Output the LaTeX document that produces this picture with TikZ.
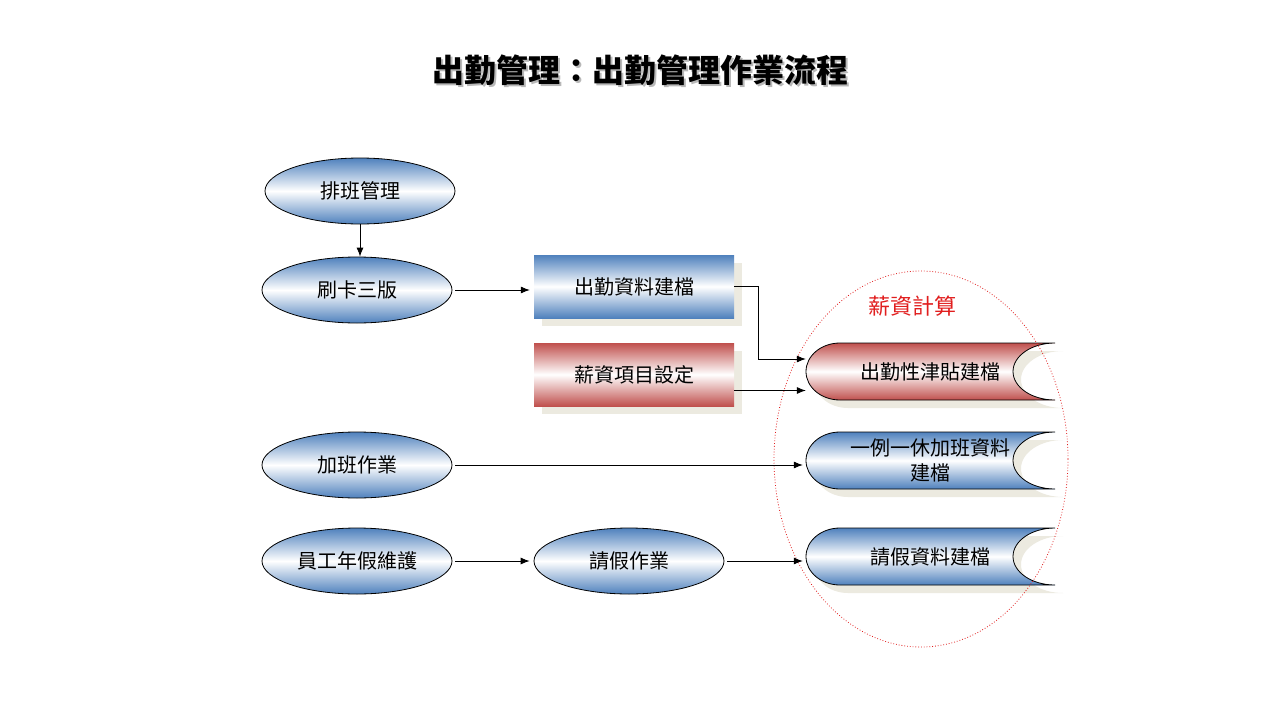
\documentclass[tikz,border=0pt]{standalone}
\usepackage{fontspec}
\setmainfont{Noto Sans CJK TC}
\usetikzlibrary{arrows.meta,shapes.geometric,shadows}
\definecolor{bl}{RGB}{79,129,189}
\definecolor{rd}{RGB}{192,80,77}
\definecolor{shad}{RGB}{236,234,224}
\definecolor{calcred}{RGB}{225,30,30}
\newcommand\storeshape[2]{%
\path[draw=black,line width=0.8pt,top color=#2,bottom color=#2,middle color=white,
  drop shadow={shadow xshift=8pt,shadow yshift=-8pt,fill=shad,opacity=1}]
 (1055,#1) -- (840,#1) arc[start angle=90,end angle=270,x radius=34pt,y radius=28.5pt]
 -- (1055,{#1+57}) arc[start angle=270,end angle=90,x radius=42pt,y radius=28.5pt] -- cycle;}
\begin{document}
\begin{tikzpicture}[x=1pt,y=-1pt,font=\fontsize{20}{25}\selectfont,
  arr/.style={-{Latex[length=9pt,width=7pt]},line width=0.8pt},
  proc/.style={ellipse,draw=black,line width=0.8pt,minimum width=190pt,minimum height=66pt,
    inner sep=0pt,top color=bl,bottom color=bl,middle color=white},
  box/.style={rectangle,minimum width=200pt,minimum height=63pt,inner sep=0pt,
    top color=#1,bottom color=#1,middle color=white,
    drop shadow={shadow xshift=8pt,shadow yshift=-8pt,fill=shad,opacity=1}},
  storetext/.style={rectangle,minimum width=249pt,minimum height=57pt,inner sep=0pt,align=center}]
\fill[white] (0,0) rectangle (1280,720);
\useasboundingbox (0,0) rectangle (1280,720);
% title
\node[text=black!28,font=\fontsize{32}{36}\selectfont\bfseries] (titleshadow) at (642,72) {出勤管理：出勤管理作業流程};
\node[font=\fontsize{32}{36}\selectfont\bfseries] (title) at (640,70) {出勤管理：出勤管理作業流程};
% processes
\node[proc] (p1) at (360,191) {排班管理};
\node[proc] (p2) at (357,290) {刷卡三版};
\node[proc] (p3) at (357,465) {加班作業};
\node[proc] (p4) at (357,561) {員工年假維護};
\node[proc] (p5) at (629,561) {請假作業};
% boxes
\node[box=bl] (r1) at (634,286.5) {出勤資料建檔};
\node[box=rd] (r2) at (634,374.5) {薪資項目設定};
% stored data
\storeshape{343}{rd}
\storeshape{432}{bl}
\storeshape{528}{bl}
\node[storetext] (s1) at (930.5,371.5) {出勤性津貼建檔};
\node[storetext] (s2) at (930.5,460.5) {一例一休加班資料\\建檔};
\node[storetext] (s3) at (930.5,556.5) {請假資料建檔};
% group
\draw[calcred,dotted,line width=0.8pt] (921,459) ellipse [x radius=147pt,y radius=188pt];
\node[text=calcred,font=\fontsize{22}{26}\selectfont] (calc) at (912,306) {薪資計算};
% connectors
\draw[arr] (p1.south) -- (p1.south |- p2.north);
\draw[arr,shorten <=3pt,shorten >=4pt] (p2.east) -- (p2.east -| r1.west);
\draw[arr] (r1.east) -- ++(24,0) |- ([yshift=12.5pt]s1.west);
\draw[arr] ([yshift=-16pt]r2.east) -- ([yshift=-16pt]r2.east -| s1.west);
\draw[arr,shorten <=3pt,shorten >=3pt] (p3.east) -- (p3.east -| s2.west);
\draw[arr,shorten <=3pt,shorten >=4pt] (p4.east) -- (p5.west);
\draw[arr,shorten <=3pt,shorten >=3pt] (p5.east) -- (p5.east -| s3.west);
\end{tikzpicture}
\end{document}
